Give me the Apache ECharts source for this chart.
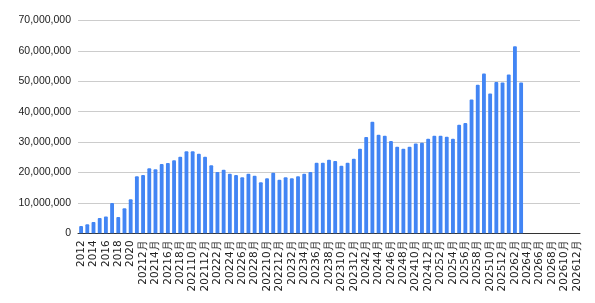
<!DOCTYPE html>
<html>
<head>
<meta charset="utf-8">
<script src="https://cdn.jsdelivr.net/npm/echarts@6/dist/echarts.min.js"></script>
<style>
html,body{margin:0;padding:0;background:#fff;}
#chart{width:595px;height:303px;}
</style>
</head>
<body>
<div id="chart"></div>
<script>
const categories = [
  '2012','2013','2014','2015','2016','2017','2018','2019','2020',
  '20211月','20212月','20213月','20214月','20215月','20216月','20217月','20218月','20219月','202110月','202111月','202112月',
  '20221月','20222月','20223月','20224月','20225月','20226月','20227月','20228月','20229月','202210月','202211月','202212月',
  '20231月','20232月','20233月','20234月','20235月','20236月','20237月','20238月','20239月','202310月','202311月','202312月',
  '20241月','20242月','20243月','20244月','20245月','20246月','20247月','20248月','20249月','202410月','202411月','202412月',
  '20251月','20252月','20253月','20254月','20255月','20256月','20257月','20258月','20259月','202510月','202511月','202512月',
  '20261月','20262月','20263月','20264月','20265月','20266月','20267月','20268月','20269月','202610月','202611月','202612月'
];
const values = [
  2400000, 3000000, 3700000, 5000000, 5500000, 10000000, 5350000, 8200000, 11200000,
  18800000, 19200000, 21400000, 21100000, 22800000, 23100000, 24000000, 25200000, 27000000, 27000000, 26200000, 25200000,
  22400000, 20200000, 20900000, 19600000, 19200000, 18400000, 19600000, 18900000, 16800000, 18100000, 19900000, 17600000,
  18400000, 18100000, 18800000, 19600000, 20200000, 23200000, 23200000, 24200000, 23800000, 22200000, 23200000, 24500000,
  27800000, 31700000, 36700000, 32400000, 32100000, 30400000, 28500000, 27800000, 28500000, 29500000, 29800000, 31100000,
  32100000, 32100000, 31800000, 31100000, 35700000, 36300000, 44000000, 48900000, 52600000, 46000000, 49800000, 49600000,
  52200000, 61500000, 49600000, null, null, null, null, null, null, null, null, null
];
const yMin = 0, yMax = 70000000, yStep = 10000000;

const chart = echarts.init(document.getElementById('chart'), null, {renderer: 'canvas'});
chart.setOption({
  animation: false,
  grid: {left: 78, right: 15, top: 20.5, bottom: 69.7, containLabel: false},
  xAxis: {
    type: 'category',
    data: categories,
    axisLine: {lineStyle: {color: '#333', width: 1}},
    axisTick: {show: false},
    axisLabel: {
      interval: 1, rotate: 90, fontSize: 10.5, color: '#222',
      fontFamily: 'DejaVu Sans', margin: 7
    }
  },
  yAxis: {
    type: 'value', min: yMin, max: yMax, interval: yStep,
    axisLine: {show: false}, axisTick: {show: false},
    splitLine: {lineStyle: {color: '#cccccc', width: 1}},
    axisLabel: {
      fontSize: 10.5, color: '#222', fontFamily: 'Liberation Sans', margin: 7,
      formatter: v => v.toLocaleString('en-US')
    }
  },
  series: [{
    type: 'bar',
    data: values,
    barWidth: '62%',
    itemStyle: {color: '#4285f4', borderRadius: [1, 1, 0, 0]}
  }]
});
</script>
</body>
</html>
